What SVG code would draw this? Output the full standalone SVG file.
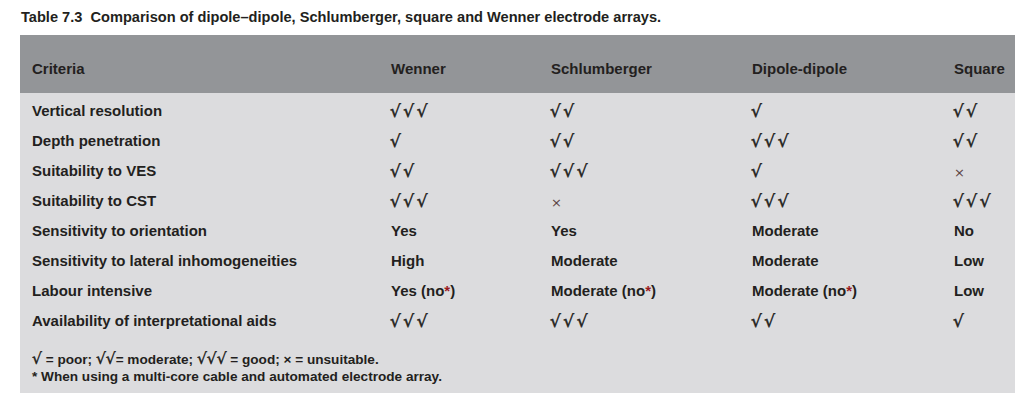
<svg xmlns="http://www.w3.org/2000/svg" width="1028" height="416" viewBox="0 0 1028 416">
<style>
text{font-family:"Liberation Sans",Arial,sans-serif;fill:#231f20;font-weight:700;}
.t{font-size:14.6px;}
.h{font-size:15px;}
.c{font-size:15px;}
.k{font-family:"DejaVu Sans",sans-serif;font-weight:400;font-size:17px;letter-spacing:2.5px;stroke:#231f20;stroke-width:0.5px;}
.x{font-family:"DejaVu Sans",sans-serif;font-weight:400;font-size:13px;fill:#5a4442;}
.f{font-size:13.6px;}
.fk{font-family:"DejaVu Sans",sans-serif;font-weight:400;font-size:15.5px;stroke:#231f20;stroke-width:0.4px;}
.r{fill:#9b1b1f;}
</style>
<rect width="1028" height="416" fill="#fff"/>
<text class="t" x="21" y="22" xml:space="preserve">Table 7.3  Comparison of dipole–dipole, Schlumberger, square and Wenner electrode arrays.</text>
<rect id="header" x="20" y="35" width="995" height="58" fill="#939598"/>
<rect id="body" x="20" y="93" width="995" height="300" fill="#dcdcde"/>
<g id="head-text">
<text class="h" x="32" y="74">Criteria</text>
<text class="h" x="391" y="74">Wenner</text>
<text class="h" x="551" y="74">Schlumberger</text>
<text class="h" x="752" y="74">Dipole-dipole</text>
<text class="h" x="954" y="74">Square</text>
</g>
<g id="row1">
<text class="c" x="32" y="116">Vertical resolution</text>
<text class="k" x="390" y="117">√√√</text>
<text class="k" x="550" y="117">√√</text>
<text class="k" x="751" y="117">√</text>
<text class="k" x="953" y="117">√√</text>
</g>
<g id="row2">
<text class="c" x="32" y="146">Depth penetration</text>
<text class="k" x="390" y="147">√</text>
<text class="k" x="550" y="147">√√</text>
<text class="k" x="751" y="147">√√√</text>
<text class="k" x="953" y="147">√√</text>
</g>
<g id="row3">
<text class="c" x="32" y="176">Suitability to VES</text>
<text class="k" x="390" y="177">√√</text>
<text class="k" x="550" y="177">√√√</text>
<text class="k" x="751" y="177">√</text>
<text class="x" x="954" y="177">×</text>
</g>
<g id="row4">
<text class="c" x="32" y="206">Suitability to CST</text>
<text class="k" x="390" y="207">√√√</text>
<text class="x" x="551" y="207">×</text>
<text class="k" x="751" y="207">√√√</text>
<text class="k" x="953" y="207">√√√</text>
</g>
<g id="row5">
<text class="c" x="32" y="236">Sensitivity to orientation</text>
<text class="c" x="391" y="236">Yes</text>
<text class="c" x="551" y="236">Yes</text>
<text class="c" x="752" y="236">Moderate</text>
<text class="c" x="954" y="236">No</text>
</g>
<g id="row6">
<text class="c" x="32" y="266">Sensitivity to lateral inhomogeneities</text>
<text class="c" x="391" y="266">High</text>
<text class="c" x="551" y="266">Moderate</text>
<text class="c" x="752" y="266">Moderate</text>
<text class="c" x="954" y="266">Low</text>
</g>
<g id="row7">
<text class="c" x="32" y="296">Labour intensive</text>
<text class="c" x="391" y="296">Yes (no<tspan class="r">*</tspan>)</text>
<text class="c" x="551" y="296">Moderate (no<tspan class="r">*</tspan>)</text>
<text class="c" x="752" y="296">Moderate (no<tspan class="r">*</tspan>)</text>
<text class="c" x="954" y="296">Low</text>
</g>
<g id="row8">
<text class="c" x="32" y="326">Availability of interpretational aids</text>
<text class="k" x="390" y="327">√√√</text>
<text class="k" x="550" y="327">√√√</text>
<text class="k" x="751" y="327">√√</text>
<text class="k" x="953" y="327">√</text>
</g>
<g id="notes">
<text class="f" x="32" y="364"><tspan class="fk">√</tspan> = poor; <tspan class="fk">√√</tspan>= moderate; <tspan class="fk">√√√</tspan> = good; × = unsuitable.</text>
<text class="f" x="32" y="381">* When using a multi-core cable and automated electrode array.</text>
</g>
</svg>
